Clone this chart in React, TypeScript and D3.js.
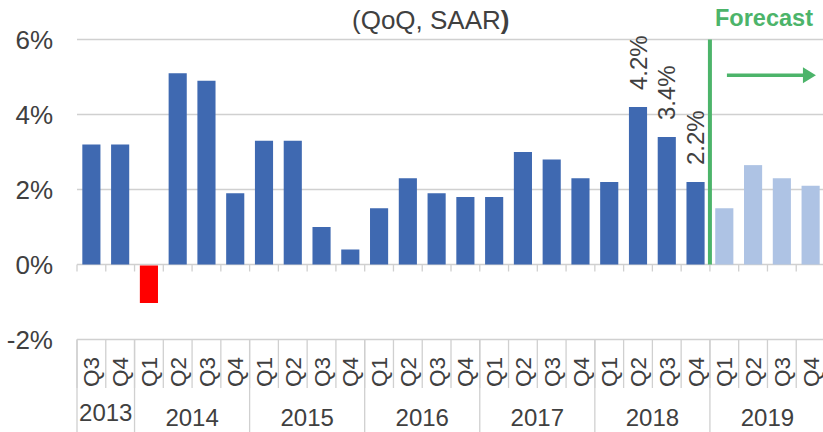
import React from "react";
import * as d3 from "d3";

// Real GDP growth, quarter over quarter, SAAR (%)
const quarterLabels = [
  "Q3", "Q4",
  "Q1", "Q2", "Q3", "Q4",
  "Q1", "Q2", "Q3", "Q4",
  "Q1", "Q2", "Q3", "Q4",
  "Q1", "Q2", "Q3", "Q4",
  "Q1", "Q2", "Q3", "Q4",
  "Q1", "Q2", "Q3", "Q4",
];
const yearLabels = ["2013", "2014", "2015", "2016", "2017", "2018", "2019"];
const quartersPerYear = [2, 4, 4, 4, 4, 4, 4];
const growthValues = [
  3.2, 3.2,
  -1.0, 5.1, 4.9, 1.9,
  3.3, 3.3, 1.0, 0.4,
  1.5, 2.3, 1.9, 1.8,
  1.8, 3.0, 2.8, 2.3,
  2.2, 4.2, 3.4, 2.2,
  1.5, 2.65, 2.3, 2.1,
];
const firstForecastIndex = 22;
const labelledBars = [19, 20, 21];
const yTicks = [-2, 0, 2, 4, 6];

const W = 823;
const H = 432;
const FONT = "'Liberation Sans', Arial, sans-serif";
const TEXT = "#404040";
const GRID = "#d0d0d0";
const GREEN = "#4cb46a";

const App = () => {
  const keys = growthValues.map((_, i) => String(i));

  const x = d3
    .scaleBand()
    .domain(keys)
    .range([77, 825])
    .paddingInner(0.37)
    .paddingOuter(0.185);

  const y = d3.scaleLinear().domain([-2, 6]).range([339.5, 39.5]);

  const step = x.step();
  const left = x.range()[0];
  const edge = (i) => left + i * step;

  const barColor = (v, i) =>
    v < 0 ? "#ff0000" : i >= firstForecastIndex ? "#aec3e4" : "#3f69b1";

  // year group boundaries
  let acc = 0;
  const yearGroups = quartersPerYear.map((n, i) => {
    const g = { label: yearLabels[i], start: acc, end: acc + n };
    acc += n;
    return g;
  });

  const forecastX = edge(firstForecastIndex);

  return (
    <svg
      width={W}
      height={H}
      style={{ position: "absolute", left: 0, top: 0, background: "#fff" }}
      fontFamily={FONT}
    >
      {/* gridlines */}
      {yTicks.map((t) => (
        <line
          key={"g" + t}
          x1={left}
          x2={W}
          y1={y(t)}
          y2={y(t)}
          stroke={GRID}
          strokeWidth={1.3}
        />
      ))}

      {/* y tick labels */}
      {yTicks.map((t) => (
        <text
          key={"yl" + t}
          x={53}
          y={y(t)}
          dy="0.36em"
          textAnchor="end"
          fontSize={26}
          fill={TEXT}
        >
          {t + "%"}
        </text>
      ))}

      {/* small ticks under the 0% line */}
      {d3.range(growthValues.length + 1).map((i) => (
        <line
          key={"t" + i}
          x1={edge(i)}
          x2={edge(i)}
          y1={y(0)}
          y2={y(0) + 7}
          stroke={GRID}
          strokeWidth={1.3}
        />
      ))}

      {/* bars */}
      {growthValues.map((v, i) => (
        <rect
          key={"b" + i}
          x={x(String(i))}
          width={x.bandwidth()}
          y={v >= 0 ? y(v) : y(0) + 1}
          height={Math.abs(y(v) - y(0))}
          fill={barColor(v, i)}
        />
      ))}

      {/* value labels */}
      {labelledBars.map((i) => {
        const cx = x(String(i)) + x.bandwidth() / 2;
        const cy = y(growthValues[i]) - 17;
        return (
          <text
            key={"vl" + i}
            transform={`translate(${cx},${cy}) rotate(-90)`}
            dy="0.36em"
            fontSize={24}
            fill={TEXT}
          >
            {growthValues[i].toFixed(1) + "%"}
          </text>
        );
      })}

      {/* forecast marker */}
      <line
        x1={forecastX}
        x2={forecastX}
        y1={y(6)}
        y2={y(0)}
        stroke={GREEN}
        strokeWidth={4}
      />
      <line
        x1={forecastX + 17}
        x2={forecastX + 95}
        y1={y(5.05)}
        y2={y(5.05)}
        stroke={GREEN}
        strokeWidth={3.5}
      />
      <path
        d={`M${forecastX + 93},${y(5.05) - 8} L${forecastX + 106},${y(5.05)} L${forecastX + 93},${y(5.05) + 8} Z`}
        fill={GREEN}
      />
      <text
        x={715}
        y={26}
        fontSize={23.5}
        fontWeight="bold"
        fill={GREEN}
      >
        Forecast
      </text>

      {/* title */}
      <text x={352} y={29} fontSize={26} fill={TEXT}>
        (QoQ, SAAR<tspan fontWeight="bold">)</tspan>
      </text>

      {/* category axis: quarter separators */}
      {d3.range(growthValues.length + 1).map((i) => (
        <line
          key={"qs" + i}
          x1={edge(i)}
          x2={edge(i)}
          y1={y(-2)}
          y2={388}
          stroke={GRID}
          strokeWidth={1.3}
        />
      ))}
      {quarterLabels.map((q, i) => (
        <text
          key={"q" + i}
          transform={`translate(${x(String(i)) + x.bandwidth() / 2},372) rotate(-90)`}
          dy="0.36em"
          textAnchor="middle"
          fontSize={22.5}
          fill={TEXT}
        >
          {q}
        </text>
      ))}

      {/* year separators and labels */}
      {yearGroups.map((g) => (
        <line
          key={"ys" + g.label}
          x1={edge(g.start)}
          x2={edge(g.start)}
          y1={y(-2)}
          y2={H}
          stroke={GRID}
          strokeWidth={1.3}
        />
      ))}
      {yearGroups.map((g, i) => (
        <text
          key={"y" + g.label}
          x={(edge(g.start) + edge(g.end)) / 2}
          y={i === 0 ? 421 : 426}
          textAnchor="middle"
          fontSize={24}
          fill={TEXT}
        >
          {g.label}
        </text>
      ))}
    </svg>
  );
};

export default App;
